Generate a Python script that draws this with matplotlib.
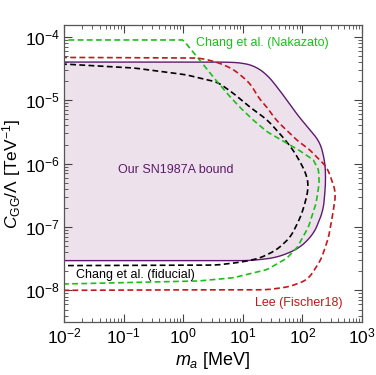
import numpy as np
import matplotlib
matplotlib.use("Agg")
import matplotlib.pyplot as plt
from matplotlib.ticker import LogLocator, NullFormatter

plt.rcParams['font.family'] = ['Liberation Sans', 'DejaVu Sans']
plt.rcParams['mathtext.fontset'] = 'custom'
plt.rcParams['mathtext.rm'] = 'Liberation Sans'
plt.rcParams['mathtext.it'] = 'Liberation Sans:italic'

# curves as (log10 m_a [MeV], log10 C/Lambda [TeV^-1])
sn_logm = [-3, -2, 0.28, 0.785, 1.0, 1.2, 1.41, 1.59, 1.74, 1.93, 2.13, 2.30, 2.38, 2.39,
           2.35, 2.20, 1.98, 1.75, 1.51, 1.12, -2, -3]
sn_logc = [-4.398, -4.398, -4.398, -4.40, -4.414, -4.46, -4.60, -4.81, -5.0, -5.25, -5.47,
           -5.67, -5.99, -6.30, -6.73, -7.09, -7.31, -7.42, -7.49, -7.53, -7.53, -7.53]

fid_logm = [-3, -2, -0.84, -0.27, 0.06, 0.40, 0.57, 0.84, 1.12, 1.41, 1.67, 1.84, 1.99, 2.08,
            2.10, 2.06, 1.97, 1.80, 1.57, 1.29, 1.0, 0.57, -2, -3]
fid_logc = [-4.43, -4.43, -4.49, -4.56, -4.60, -4.68, -4.71, -4.89, -5.11, -5.31, -5.58,
            -5.78, -6.02, -6.21, -6.37, -6.57, -6.84, -7.16, -7.36, -7.49, -7.55, -7.60,
            -7.61, -7.61]

nak_logm = [-3, -2, 0.0, 0.28, 0.50, 0.79, 0.95, 1.17, 1.41, 1.67, 1.96, 2.18, 2.27, 2.28,
            2.23, 2.10, 1.92, 1.74, 1.41, 0.84, 0.28, -2, -3]
nak_logc = [-4.05, -4.05, -4.05, -4.37, -4.63, -4.95, -5.11, -5.31, -5.50, -5.64, -5.80,
            -5.94, -6.10, -6.31, -6.62, -7.0, -7.31, -7.49, -7.67, -7.80, -7.85, -7.90, -7.90]

lee_logm = [-3, -2, 0.28, 0.57, 0.84, 1.12, 1.29, 1.41, 1.51, 1.67, 1.79, 1.96, 2.08, 2.24,
            2.41, 2.51, 2.56, 2.52, 2.44, 2.31, 2.09, 1.79, 1.41, 0.28, -2, -3]
lee_logc = [-4.325, -4.325, -4.335, -4.40, -4.51, -4.73, -5.0, -5.11, -5.26, -5.42, -5.52,
            -5.68, -5.74, -5.90, -6.05, -6.31, -6.46, -6.73, -7.16, -7.52, -7.83, -7.94,
            -7.99, -7.99, -8.0, -8.0]

purple = '#5d1a6b'
fill = '#ede2ec'
green = '#1bbf1b'
red = '#c0181c'

def smooth(lx, ly, n=10, w=5):
    # light smoothing of the traced points, in log space
    lx = np.asarray(lx, float)
    ly = np.asarray(ly, float)
    t = np.r_[0, np.cumsum(np.hypot(np.diff(lx), np.diff(ly)))]
    tt = np.linspace(0, t[-1], len(t) * n)
    x = np.interp(tt, t, lx)
    y = np.interp(tt, t, ly)
    if w > 1:
        k = np.ones(w) / w
        h = w // 2
        x = np.convolve(np.pad(x, h, mode='edge'), k, mode='valid')
        y = np.convolve(np.pad(y, h, mode='edge'), k, mode='valid')
    return 10 ** x, 10 ** y

fig = plt.figure(figsize=(3.76, 3.75), dpi=100)
ax = fig.add_axes([0.170, 0.141, 0.793, 0.792])

x, y = smooth(sn_logm, sn_logc)
ax.fill(x, y, color=fill, lw=0)
ax.plot(x, y, color=purple, lw=1.0)

x, y = smooth(fid_logm, fid_logc)
ax.plot(x, y, color='black', lw=1.2, dashes=(3.5, 2))
x, y = smooth(nak_logm, nak_logc, w=1)
ax.plot(x, y, color=green, lw=1.2, dashes=(3.5, 2))
x, y = smooth(lee_logm, lee_logc)
ax.plot(x, y, color=red, lw=1.2, dashes=(3.5, 2))

ax.set_xscale('log')
ax.set_yscale('log')
ax.set_xlim(1e-2, 1e3)
ax.set_ylim(10 ** -8.5, 10 ** -3.816)

ax.xaxis.set_major_locator(LogLocator(base=10, numticks=10))
ax.yaxis.set_major_locator(LogLocator(base=10, numticks=10))
ax.xaxis.set_minor_locator(LogLocator(base=10, subs=np.arange(2, 10), numticks=20))
ax.yaxis.set_minor_locator(LogLocator(base=10, subs=np.arange(2, 10), numticks=20))
ax.xaxis.set_minor_formatter(NullFormatter())
ax.yaxis.set_minor_formatter(NullFormatter())
ax.tick_params(which='both', direction='in', top=True, right=True, color='#444444',
               labelsize=12.5, pad=3)
ax.tick_params(which='major', length=6, width=0.8)
ax.tick_params(which='minor', length=3, width=0.6)
for s in ax.spines.values():
    s.set_color('#555555')
    s.set_linewidth(0.9)

ax.set_xlabel(r'$m_a$ [MeV]', fontsize=13, labelpad=3)
ax.set_ylabel(r'$C_{\rm GG}/\Lambda$ [TeV$^{-1}$]', fontsize=12.5, labelpad=1)

ax.text(0.376, 0.512, 'Our SN1987A bound', transform=ax.transAxes,
        color=purple, fontsize=9, ha='center', va='center')
ax.text(0.443, 0.939, 'Chang et al. (Nakazato)', transform=ax.transAxes,
        color=green, fontsize=9, ha='left', va='center')
ax.text(0.04, 0.158, 'Chang et al. (fiducial)', transform=ax.transAxes,
        color='black', fontsize=9, ha='left', va='center')
ax.text(0.641, 0.064, 'Lee (Fischer18)', transform=ax.transAxes,
        color=red, fontsize=9, ha='left', va='center')

fig.savefig('out.png', dpi=100)
